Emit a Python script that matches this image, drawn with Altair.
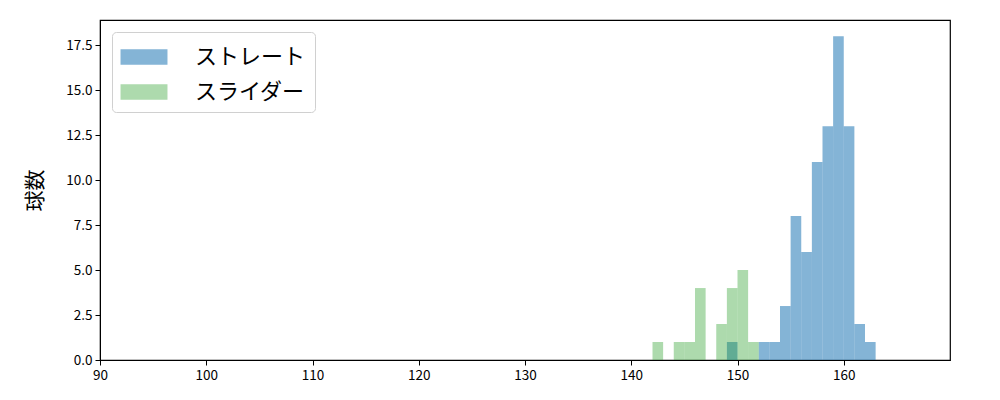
import altair as alt
import pandas as pd

# Data (bin left edges, width 1)
straight_left = [149, 152, 153, 154, 155, 156, 157, 158, 159, 160, 161, 162]
straight_counts = [1, 1, 1, 3, 8, 6, 11, 13, 18, 13, 2, 1]
slider_left = [142, 144, 145, 146, 148, 149, 150, 151]
slider_counts = [1, 1, 1, 4, 2, 4, 5, 1]
series_names = ["ストレート", "スライダー"]
series_colors = ["rgba(31,119,180,0.55)", "rgba(44,160,44,0.39)"]
x_ticks = [90, 100, 110, 120, 130, 140, 150, 160]
y_ticks = [0, 2.5, 5, 7.5, 10, 12.5, 15, 17.5]

rows = []
for l, c in zip(straight_left, straight_counts):
    rows.append({"series": series_names[0], "x": l, "x2": l + 1, "count": c, "ord": 0})
for l, c in zip(slider_left, slider_counts):
    rows.append({"series": series_names[1], "x": l, "x2": l + 1, "count": c, "ord": 1})
df = pd.DataFrame(rows)

FONT = "Noto Sans CJK JP"

chart = alt.Chart(df).mark_rect().encode(
    x=alt.X("x:Q", scale=alt.Scale(domain=[90, 170], nice=False, zero=False),
            axis=alt.Axis(values=x_ticks, title=None, grid=False, format="d",
                          labelFlush=False)),
    x2="x2:Q",
    y=alt.Y("count:Q", scale=alt.Scale(domain=[0, 18.9], nice=False),
            axis=alt.Axis(values=y_ticks, title="球数", grid=False, format=".1f")),
    y2=alt.datum(0),
    color=alt.Color("series:N",
                    scale=alt.Scale(domain=series_names, range=series_colors),
                    legend=alt.Legend(title=None, orient="none", legendX=12, legendY=12,
                                      symbolType="M-1.5,-0.5H1.5V0.5H-1.5Z",
                                      symbolSize=980, symbolStrokeWidth=0,
                                      symbolOffset=7,
                                      labelFontSize=22, labelFont=FONT,
                                      labelOffset=35, rowPadding=8,
                                      padding=9, strokeColor="#d0d0d0",
                                      cornerRadius=4, fillColor="white")),
    order=alt.Order("ord:Q"),
).properties(
    width=850, height=340,
    autosize=alt.AutoSizeParams(type="none"),
    padding={"left": 92, "top": 12, "right": 42, "bottom": 32},
).configure_view(
    stroke="black", strokeWidth=1.2
).configure_axis(
    domainColor="black", tickColor="black", labelColor="black",
    labelFont=FONT, labelFontSize=13.5, tickSize=5, labelPadding=3,
    titleFont=FONT, titleFontSize=21, titleFontWeight="normal", titleColor="black",
    titlePadding=20
)

chart.save("out.html", embed_options={"renderer": "svg", "actions": False})
